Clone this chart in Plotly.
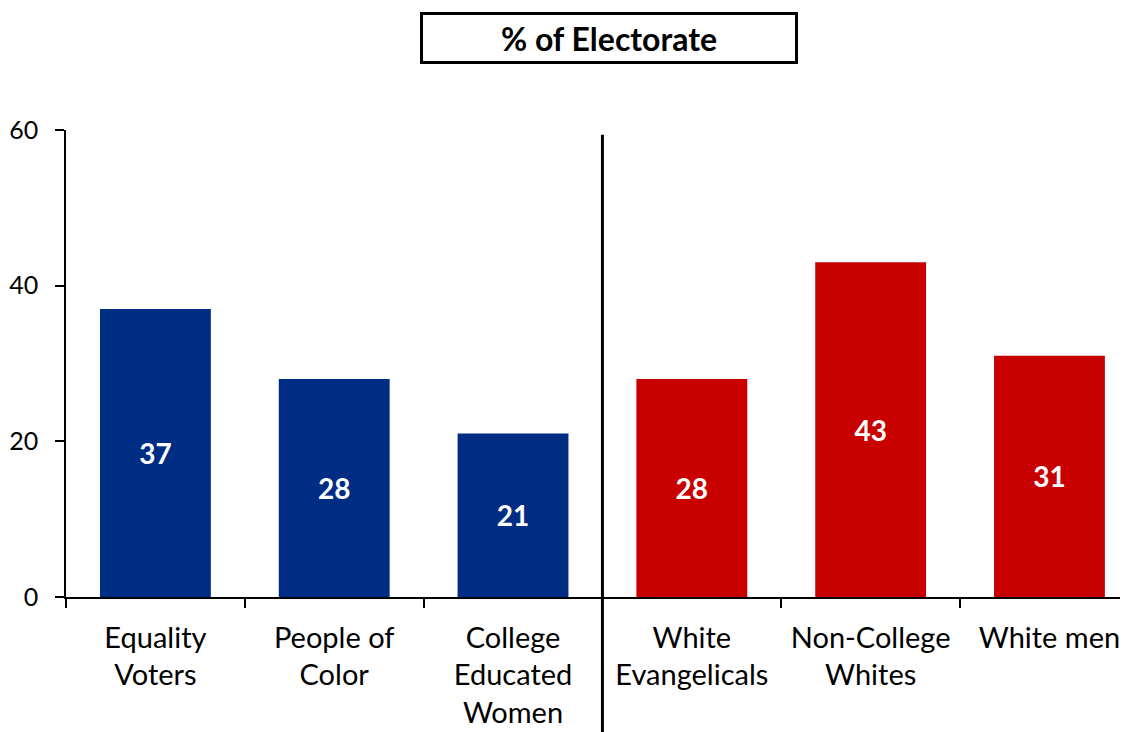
import plotly.graph_objects as go

categories = ["Equality<br>Voters", "People of<br>Color", "College<br>Educated<br>Women",
              "White<br>Evangelicals", "Non-College<br>Whites", "White men"]
values = [37, 28, 21, 28, 43, 31]
colors = ["#002D84", "#002D84", "#002D84", "#C90000", "#C90000", "#C90000"]
y_ticks = [0, 20, 40, 60]
title_text = "% of Electorate"

FONT = "Lato, Open Sans, sans-serif"

fig = go.Figure()
fig.add_trace(go.Bar(
    x=categories,
    y=values,
    width=0.62,
    marker=dict(color=colors, line=dict(width=0)),
    text=[str(v) for v in values],
    textposition="inside",
    insidetextanchor="middle",
    textangle=0,
    textfont=dict(color="white", size=28, family=FONT, weight="bold"),
    hoverinfo="skip",
))

fig.update_layout(
    width=1128, height=732,
    margin=dict(l=58, r=0, t=122, b=143, autoexpand=False),
    paper_bgcolor="white", plot_bgcolor="white",
    showlegend=False,
    font=dict(family=FONT, color="black"),
)

fig.update_xaxes(
    type="category",
    range=[-0.5, 5.484],
    tickfont=dict(size=29, color="black", family=FONT),
    ticks="outside", ticklen=9, tickwidth=1.5, tickcolor="black",
    tickson="boundaries",
    showline=True, linecolor="black", linewidth=1.5,
    showgrid=False, zeroline=False,
    ticklabelstandoff=14,
    automargin=False,
)
fig.update_yaxes(
    range=[0, 60],
    tickmode="array", tickvals=y_ticks,
    tickfont=dict(size=25, color="black", family=FONT),
    ticks="outside", ticklen=9, tickwidth=1.5, tickcolor="black",
    showline=True, linecolor="black", linewidth=1.5,
    showgrid=False, zeroline=False,
    ticklabelstandoff=12,
    automargin=False,
)

# divider between the two groups
fig.add_shape(type="line", xref="x", yref="paper",
              x0=2.5, x1=2.5, y0=-0.29, y1=0.99,
              line=dict(color="black", width=3))

# boxed title
fig.add_annotation(
    text="<b>" + title_text + "</b>",
    xref="paper", yref="paper",
    x=(601 - 58) / 1070, y=1 + (122 - 30) / 467,
    xanchor="center", yanchor="middle",
    showarrow=False,
    font=dict(size=32, color="black", family=FONT),
    bordercolor="black", borderwidth=3,
    bgcolor="white",
    width=370, height=44,
)

fig.write_html("out.html")
